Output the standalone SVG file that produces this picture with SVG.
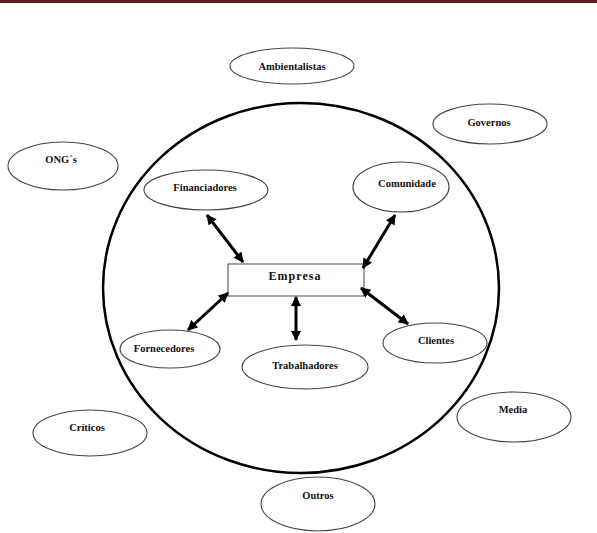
<svg xmlns="http://www.w3.org/2000/svg" width="597" height="533" viewBox="0 0 597 533">
<style>
.n ellipse{fill:#fff;stroke:#444;stroke-width:1.1}
.t{font-family:"Liberation Serif","Times New Roman",serif;font-weight:bold;font-size:10.5px;fill:#111;text-anchor:middle}
.c line{stroke:#000;stroke-width:3;marker-start:url(#ah);marker-end:url(#ah)}
</style>
<defs>
<marker id="ah" viewBox="0 0 10 10" refX="9" refY="5" markerWidth="3.6" markerHeight="3.4" orient="auto-start-reverse" markerUnits="strokeWidth">
<path d="M0,0 L10,5 L0,10 z" fill="#000"/>
</marker>
</defs>
<rect x="0" y="0" width="597" height="3" fill="#5e1f2b"/>
<ellipse id="circle" cx="301" cy="288" rx="198" ry="185" fill="none" stroke="#000" stroke-width="2.5"/>
<g id="ambientalistas" class="n"><ellipse cx="292" cy="66" rx="62" ry="18"/><text class="t" x="292" y="70">Ambientalistas</text></g>
<g id="governos" class="n"><ellipse cx="490" cy="124" rx="57" ry="20"/><text class="t" x="489" y="126">Governos</text></g>
<g id="ongs" class="n"><ellipse cx="63" cy="166" rx="55" ry="24"/><text class="t" x="61" y="163">ONG´s</text></g>
<g id="financiadores" class="n"><ellipse cx="206" cy="190" rx="62" ry="20"/><text class="t" x="205" y="191">Financiadores</text></g>
<g id="comunidade" class="n"><ellipse cx="401" cy="187" rx="48" ry="25"/><text class="t" x="407" y="187">Comunidade</text></g>
<g id="empresa"><rect x="228" y="264" width="136" height="32" fill="#fff" stroke="#444" stroke-width="1"/><text class="t" x="295" y="280" style="font-size:12px;letter-spacing:1px">Empresa</text></g>
<g id="fornecedores" class="n"><ellipse cx="170" cy="349" rx="50" ry="19"/><text class="t" x="164" y="352">Fornecedores</text></g>
<g id="trabalhadores" class="n"><ellipse cx="305" cy="367" rx="63" ry="22"/><text class="t" x="305" y="369">Trabalhadores</text></g>
<g id="clientes" class="n"><ellipse cx="435" cy="343" rx="52" ry="20"/><text class="t" x="436" y="344">Clientes</text></g>
<g id="criticos" class="n"><ellipse cx="90" cy="433" rx="57" ry="23"/><text class="t" x="87" y="431">Críticos</text></g>
<g id="media" class="n"><ellipse cx="514" cy="417" rx="57" ry="25"/><text class="t" x="513" y="413">Media</text></g>
<g id="outros" class="n"><ellipse cx="318" cy="504" rx="57" ry="27"/><text class="t" x="318" y="499">Outros</text></g>
<g id="connectors" class="c">
<line x1="207" y1="215" x2="243" y2="262"/>
<line x1="395" y1="215" x2="363" y2="268"/>
<line x1="228" y1="293" x2="188" y2="330"/>
<line x1="296" y1="297" x2="296" y2="340"/>
<line x1="361" y1="288" x2="408" y2="324"/>
</g>
</svg>
